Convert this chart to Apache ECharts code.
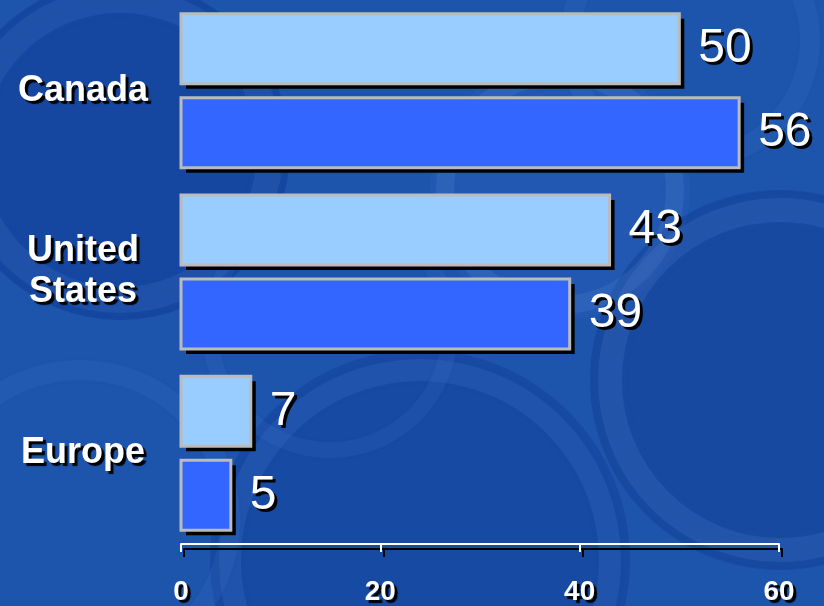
<!DOCTYPE html>
<html>
<head>
<meta charset="utf-8">
<script src="https://cdn.jsdelivr.net/npm/echarts@6/dist/echarts.min.js"></script>
<style>
html,body{margin:0;padding:0;background:#1d54ac;}
#c{width:824px;height:606px;}
</style>
</head>
<body>
<div id="c"></div>
<script>
const categories = ['Canada', 'United\nStates', 'Europe'];
const seriesA = [50, 43, 7];
const seriesB = [56, 39, 5];
const xTicks = [0, 20, 40, 60];

const chart = echarts.init(document.getElementById('c'), null, {renderer: 'canvas'});

const ring = (cx, cy, r, w, color) => ({
  type: 'circle', shape: {cx: cx, cy: cy, r: r}, silent: true, z: -10,
  style: {fill: null, stroke: color, lineWidth: w, shadowBlur: 14, shadowColor: color}
});
const disk = (cx, cy, r, color) => ({
  type: 'circle', shape: {cx: cx, cy: cy, r: r}, silent: true, z: -11,
  style: {fill: color}
});

const shadowText = {
  color: '#ffffff',
  textShadowColor: '#000000',
  textShadowOffsetX: 3,
  textShadowOffsetY: 3,
  textShadowBlur: 1
};

const FONT = 'Liberation Sans, Arial, sans-serif';
const BAR_W = 70, GAP = 14;

function makeRender(offsetSign, fillColor) {
  return function (params, api) {
    const v = api.value(0);
    const ci = api.value(1);
    const p0 = api.coord([0, ci]);
    const p1 = api.coord([v, ci]);
    const cy = p0[1] + offsetSign * (BAR_W + GAP) / 2;
    const x = p0[0], y = cy - BAR_W / 2, w = p1[0] - p0[0];
    const tx = p1[0] + 19;
    return {
      type: 'group',
      children: [
        {type: 'rect', shape: {x: x + 5, y: y + 5, width: w, height: BAR_W},
          style: {fill: '#000000'}},
        {type: 'rect', shape: {x: x, y: y, width: w, height: BAR_W},
          style: {fill: fillColor, stroke: '#BBBBBB', lineWidth: 3}},
        {type: 'text', x: tx + 3, y: cy + 3,
          style: {text: String(v), fill: '#000000', font: '48px ' + FONT,
            textAlign: 'left', textVerticalAlign: 'middle'}},
        {type: 'text', x: tx, y: cy,
          style: {text: String(v), fill: '#ffffff', font: '48px ' + FONT,
            textAlign: 'left', textVerticalAlign: 'middle'}}
      ]
    };
  };
}

chart.setOption({
  backgroundColor: '#1d54ac',
  animation: false,
  graphic: [
    disk(120, 150, 170, 'rgba(10,50,140,0.35)'),
    ring(120, 150, 150, 26, 'rgba(90,140,220,0.14)'),
    disk(560, 190, 130, 'rgba(60,110,200,0.18)'),
    ring(560, 190, 115, 18, 'rgba(120,170,240,0.12)'),
    disk(780, 380, 190, 'rgba(10,45,130,0.28)'),
    ring(780, 380, 170, 24, 'rgba(100,150,230,0.15)'),
    disk(420, 560, 210, 'rgba(10,50,140,0.28)'),
    ring(420, 560, 190, 22, 'rgba(100,150,230,0.12)'),
    ring(80, 520, 150, 20, 'rgba(100,150,230,0.10)'),
    ring(330, 330, 120, 16, 'rgba(100,150,230,0.10)'),
    ring(690, 40, 120, 20, 'rgba(100,150,230,0.10)')
  ],
  grid: {left: 181, right: 45, top: -3, bottom: 62, containLabel: false},
  xAxis: {
    type: 'value', min: 0, max: 60, interval: 20,
    axisLine: {show: true, lineStyle: {color: '#ffffff', width: 2, shadowColor: '#000000', shadowOffsetX: 3, shadowOffsetY: 5, shadowBlur: 0}},
    axisTick: {show: true, length: 8, lineStyle: {color: '#ffffff', width: 2, shadowColor: '#000000', shadowOffsetX: 3, shadowOffsetY: 5, shadowBlur: 0}},
    splitLine: {show: false},
    axisLabel: Object.assign({
      fontFamily: FONT, fontWeight: 'bold', fontSize: 28,
      margin: 34,
      formatter: v => xTicks.includes(v) ? String(v) : ''
    }, shadowText)
  },
  yAxis: {
    type: 'category', data: categories, inverse: true,
    axisLine: {show: false}, axisTick: {show: false},
    axisLabel: Object.assign({
      fontFamily: FONT, fontWeight: 'bold', fontSize: 36,
      lineHeight: 41, align: 'center', margin: 98
    }, shadowText)
  },
  series: [
    {
      type: 'custom', renderItem: makeRender(-1, '#99CCFF'),
      encode: {x: 0, y: 1},
      data: seriesA.map((v, i) => [v, i])
    },
    {
      type: 'custom', renderItem: makeRender(1, '#3366FF'),
      encode: {x: 0, y: 1},
      data: seriesB.map((v, i) => [v, i])
    }
  ]
});
</script>
</body>
</html>
